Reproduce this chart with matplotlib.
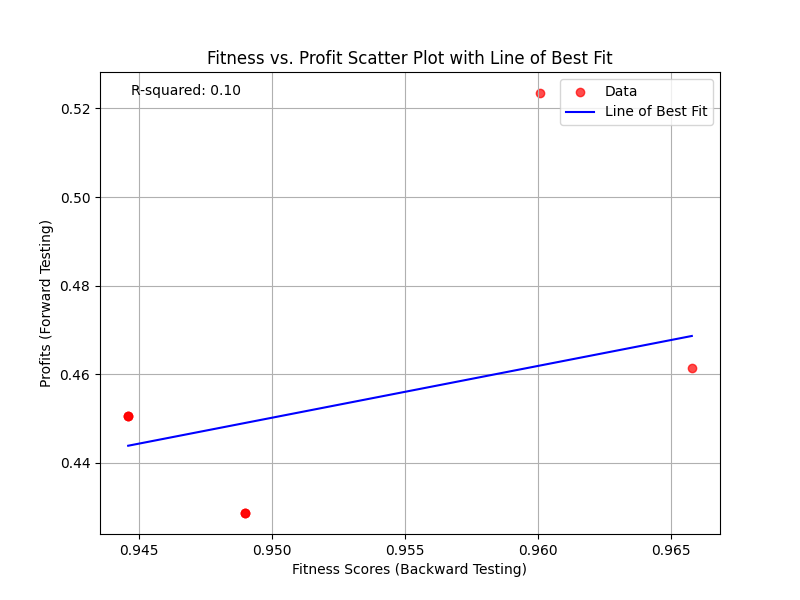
import matplotlib
matplotlib.use("Agg")
import matplotlib.pyplot as plt

fitness = [0.9446, 0.9446, 0.9446, 0.9490, 0.9490, 0.9490, 0.9601, 0.9658]
profits = [0.4505, 0.4505, 0.4505, 0.4286, 0.4286, 0.4286, 0.5235, 0.4614]
fit_x = [0.9446, 0.9658]
fit_y = [0.4438, 0.4686]
r_squared = 0.10

fig, ax = plt.subplots(figsize=(8, 6), dpi=100)
ax.scatter(fitness, profits, color='red', alpha=0.7, label='Data')
ax.plot(fit_x, fit_y, color='blue', label='Line of Best Fit')
ax.set_xlabel('Fitness Scores (Backward Testing)')
ax.set_ylabel('Profits (Forward Testing)')
ax.set_title('Fitness vs. Profit Scatter Plot with Line of Best Fit')
ax.text(0.05, 0.95, f'R-squared: {r_squared:.2f}', transform=ax.transAxes)
ax.legend()
ax.grid(True)
fig.savefig('out.png')
